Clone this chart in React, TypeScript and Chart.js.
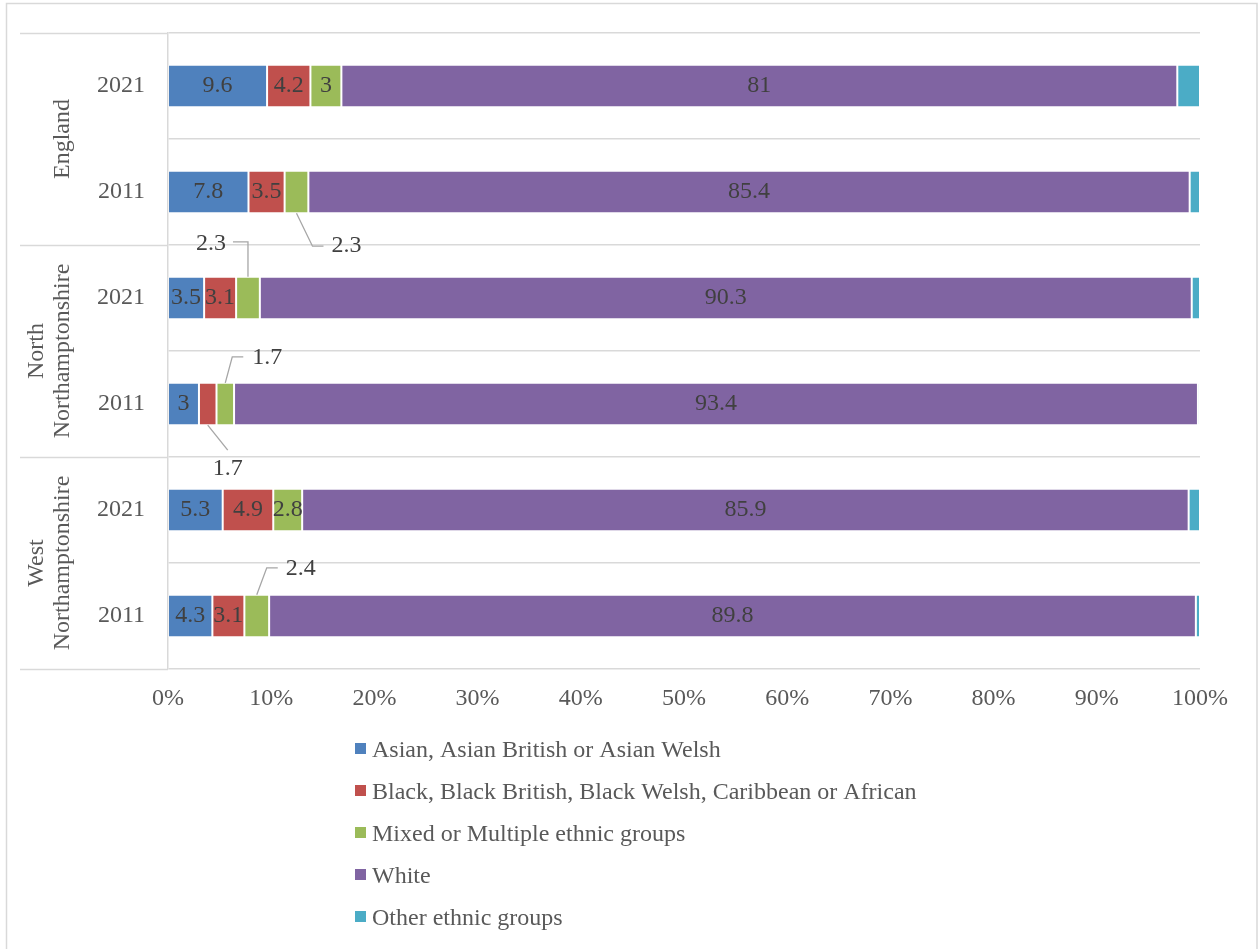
import React, { useEffect, useRef } from 'react';
import { Chart, registerables } from 'chart.js';

Chart.register(...registerables);

// ---- data ----
const YEAR_LABELS = ['2021', '2011', '2021', '2011', '2021', '2011'];
const GROUP_LABELS = [['England'], ['North', 'Northamptonshire'], ['West', 'Northamptonshire']];
const SERIES_NAMES = [
  'Asian, Asian British or Asian Welsh',
  'Black, Black British, Black Welsh, Caribbean or African',
  'Mixed or Multiple ethnic groups',
  'White',
  'Other ethnic groups',
];
const ASIAN = [9.6, 7.8, 3.5, 3, 5.3, 4.3];
const BLACK = [4.2, 3.5, 3.1, 1.7, 4.9, 3.1];
const MIXED = [3, 2.3, 2.3, 1.7, 2.8, 2.4];
const WHITE = [81, 85.4, 90.3, 93.4, 85.9, 89.8];
const OTHER = [2.2, 1.0, 0.8, 0.2, 1.1, 0.4];
const SHOW_VALUE = [true, true, true, true, false];

// ---- style ----
const COLORS = ['#4F81BD', '#C0504D', '#9BBB59', '#8064A2', '#4BACC6'];
const FONT = '"Liberation Serif", "Times New Roman", serif';
const FS = 24;
const TEXT = '#595959';
const VALUE_TEXT = '#404040';
const GRID = '#d9d9d9';
const LEADER = '#a6a6a6';

// callout labels (offsets in px from the segment's centre on the bar edge)
const CALLOUTS = [
  { series: 2, bar: 1, edge: 'bottom', path: [[16, 33], [27, 33]], lx: 35, ly: 33, align: 'left' },
  { series: 2, bar: 2, edge: 'top', path: [[0, -35], [-15, -35]], lx: -22, ly: -33, align: 'right' },
  { series: 2, bar: 3, edge: 'top', path: [[7, -26], [18, -26]], lx: 27, ly: -25, align: 'left' },
  { series: 1, bar: 3, edge: 'bottom', path: [[20, 25]], lx: 20, ly: 44, align: 'center' },
  { series: 2, bar: 5, edge: 'top', path: [[10, -27], [21, -27]], lx: 29, ly: -26, align: 'left' },
];

const valueLabels = {
  id: 'valueLabels',
  afterDatasetsDraw(chart: any) {
    const ctx = chart.ctx;
    ctx.save();
    ctx.font = `${FS}px ${FONT}`;
    ctx.fillStyle = VALUE_TEXT;
    chart.data.datasets.forEach((ds: any, di: number) => {
      if (!SHOW_VALUE[di]) return;
      const meta = chart.getDatasetMeta(di);
      meta.data.forEach((el: any, bi: number) => {
        const p = el.getProps(['x', 'y', 'base', 'height'], true);
        const cx = (p.x + p.base) / 2;
        const text = String(ds.data[bi]);
        const co: any = CALLOUTS.find((c) => c.series === di && c.bar === bi);
        if (co) {
          const ay = co.edge === 'top' ? p.y - p.height / 2 : p.y + p.height / 2;
          ctx.strokeStyle = LEADER;
          ctx.lineWidth = 1.3;
          ctx.beginPath();
          ctx.moveTo(cx, ay);
          co.path.forEach(([dx, dy]: number[]) => ctx.lineTo(cx + dx, ay + dy));
          ctx.stroke();
          ctx.textAlign = co.align;
          ctx.textBaseline = 'middle';
          ctx.fillText(text, cx + co.lx, ay + co.ly);
        } else {
          ctx.textAlign = 'center';
          ctx.textBaseline = 'middle';
          ctx.fillText(text, cx, p.y);
        }
      });
    });
    ctx.restore();
  },
};

const decorations = {
  id: 'decorations',
  beforeDraw(chart: any) {
    const ctx = chart.ctx;
    ctx.save();
    ctx.fillStyle = '#ffffff';
    ctx.fillRect(0, 0, chart.width, chart.height);
    ctx.strokeStyle = GRID;
    ctx.lineWidth = 1.5;
    ctx.strokeRect(6.5, 3.5, chart.width - 7.5, chart.height + 20);
    ctx.restore();
  },
  afterDraw(chart: any) {
    const ctx = chart.ctx;
    const area = chart.chartArea;
    const n = YEAR_LABELS.length;
    const step = (area.bottom - area.top) / n;
    ctx.save();
    ctx.strokeStyle = GRID;
    ctx.lineWidth = 1.5;
    for (let g = 0; g <= GROUP_LABELS.length; g++) {
      const y = Math.round(area.top + g * 2 * step) + 0.5;
      ctx.beginPath();
      ctx.moveTo(20, y);
      ctx.lineTo(area.left, y);
      ctx.stroke();
    }
    ctx.font = `${FS}px ${FONT}`;
    ctx.fillStyle = TEXT;
    ctx.textAlign = 'center';
    ctx.textBaseline = 'alphabetic';
    GROUP_LABELS.forEach((lines, g) => {
      const cy = area.top + (2 * g + 1) * step;
      lines.forEach((line, li) => {
        const bx = area.left - 99 - (lines.length - 1 - li) * 26;
        ctx.save();
        ctx.translate(bx, cy);
        ctx.rotate(-Math.PI / 2);
        ctx.fillText(line, 0, 0);
        ctx.restore();
      });
    });
    const lx = area.left + 187;
    let by = area.bottom + 88;
    ctx.textAlign = 'left';
    SERIES_NAMES.forEach((name, i) => {
      ctx.fillStyle = COLORS[i];
      ctx.fillRect(lx, by - 14, 11, 11);
      ctx.fillStyle = TEXT;
      ctx.fillText(name, lx + 17, by);
      by += 42;
    });
    ctx.restore();
  },
};

export default function App() {
  const ref = useRef<HTMLCanvasElement>(null);
  useEffect(() => {
    if (!ref.current) return;
    Chart.defaults.font.family = FONT;
    Chart.defaults.font.size = FS;
    Chart.defaults.color = TEXT;
    const series = [ASIAN, BLACK, MIXED, WHITE, OTHER];
    const chart = new Chart(ref.current, {
      type: 'bar',
      data: {
        labels: YEAR_LABELS,
        datasets: series.map((d, i) => ({
          label: SERIES_NAMES[i],
          data: d,
          backgroundColor: COLORS[i],
          borderColor: 'rgba(255,255,255,0.35)',
          borderWidth: 1,
          borderSkipped: false,
          categoryPercentage: 0.8,
          barPercentage: 0.5,
        })),
      },
      options: {
        indexAxis: 'y',
        responsive: false,
        animation: false,
        layout: { padding: { top: 33, right: 58, left: 0, bottom: 0 } },
        plugins: {
          legend: { display: false },
          tooltip: { enabled: false },
        },
        scales: {
          x: {
            type: 'linear',
            stacked: true,
            min: 0,
            max: 100,
            grid: { display: false },
            border: { display: false },
            ticks: {
              stepSize: 10,
              padding: 7,
              color: TEXT,
              font: { size: FS, family: FONT },
              callback: (v: any) => v + '%',
            },
            afterFit: (s: any) => {
              s.height = 280;
            },
          },
          y: {
            type: 'category',
            stacked: true,
            grid: { display: true, color: GRID, lineWidth: 1.5, drawTicks: false, offset: true },
            border: { display: true, color: GRID, width: 1.5 },
            ticks: { padding: 23, color: TEXT, font: { size: FS, family: FONT } },
            afterFit: (s: any) => {
              s.width = 168;
              s.paddingTop = 0;
              s.paddingBottom = 0;
            },
          },
        },
      },
      plugins: [decorations, valueLabels],
    } as any);
    return () => chart.destroy();
  }, []);
  return (
    <div style={{ position: 'absolute', left: 0, top: 0, width: 1258, height: 949 }}>
      <canvas ref={ref} width={1258} height={949} style={{ display: 'block' }} />
    </div>
  );
}
